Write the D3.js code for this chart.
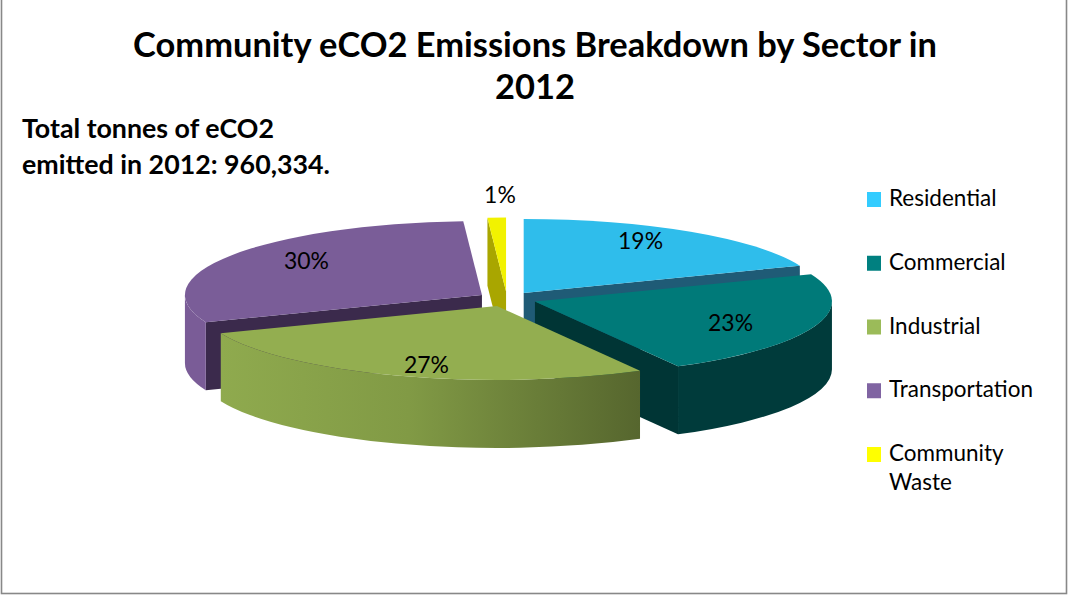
<!DOCTYPE html>
<html>
<head>
<meta charset="utf-8">
<script src="https://cdn.jsdelivr.net/npm/d3@7/dist/d3.min.js"></script>
<style>
  html, body { margin: 0; padding: 0; background: #fff; }
  svg { display: block; }
  text { font-family: Lato, "Open Sans", "DejaVu Sans", sans-serif; fill: #000; }
</style>
</head>
<body>
<svg id="chart" width="1068" height="596"></svg>
<script>
// ---- data ----
const categories = ["Residential", "Commercial", "Industrial", "Transportation", "Community Waste"];
const values = [19, 23, 27, 30, 1];
const percentLabels = ["19%", "23%", "27%", "30%", "1%"];
const titleLines = ["Community eCO2 Emissions Breakdown by Sector in", "2012"];
const noteLines = ["Total tonnes of eCO2", "emitted in 2012: 960,334."];
const legendLines = [["Residential"], ["Commercial"], ["Industrial"], ["Transportation"], ["Community", "Waste"]];

// ---- styles ----
const legendColors = ["#33CCFF", "#008080", "#9BBB59", "#8064A2", "#FFFF00"];
const topColors = ["#2FBDEB", "#007A79", "#93AE50", "#7A5D98", "#F2F200"];
const wallColors = ["#1E6E8C", "#003B3B", "url(#gGreen)", "#7A5C97", "#B8B800"];
const faceColors = ["#1F5B76", "#003535", "#5E7030", "#3B2A4C", "#A9A600"];

const svg = d3.select("#chart");
const W = 1068, H = 596;

// gradient for industrial wall
const defs = svg.append("defs");
const gg = defs.append("linearGradient").attr("id", "gGreen")
  .attr("x1", "0").attr("x2", "1").attr("y1", "0").attr("y2", "0");
gg.append("stop").attr("offset", "0").attr("stop-color", "#8FAA4E");
gg.append("stop").attr("offset", "0.45").attr("stop-color", "#819A45");
gg.append("stop").attr("offset", "1").attr("stop-color", "#56662E");

svg.append("rect").attr("x", 0).attr("y", 0).attr("width", W).attr("height", H).attr("fill", "#fff");
svg.append("rect").attr("x", 1.5).attr("y", -2).attr("width", W - 3).attr("height", H - 0.5)
  .attr("fill", "none").attr("stroke", "#888").attr("stroke-width", 1.6);

// fit a text element's width to a target by adjusting font size
function fit(sel, target) {
  const fs = parseFloat(sel.attr("font-size"));
  const w = sel.node().getComputedTextLength();
  const nfs = fs * target / w;
  sel.attr("font-size", nfs);
  return nfs;
}

// ---- title ----
const t1 = svg.append("text").attr("x", 535).attr("y", 57).attr("text-anchor", "middle")
  .attr("font-weight", "bold").attr("font-size", 30).text(titleLines[0]);
const tfs = fit(t1, 804);
svg.append("text").attr("x", 535).attr("y", 99).attr("text-anchor", "middle")
  .attr("font-weight", "bold").attr("font-size", tfs).text(titleLines[1]);

// ---- note ----
const n1 = svg.append("text").attr("x", 22).attr("y", 138)
  .attr("font-weight", "bold").attr("font-size", 22).text(noteLines[0]);
const nfs = fit(n1, 252);
svg.append("text").attr("x", 22).attr("y", 174)
  .attr("font-weight", "bold").attr("font-size", nfs).text(noteLines[1]);

// ---- 3D pie ----
const cx = 507, cy = 299, rx = 297, ry = 74, depth = 68, explode = 0.1;
const pie = d3.pie().sort(null).value(d => d);
const arcs = pie(values).map((a, i) => {
  const mid = (a.startAngle + a.endAngle) / 2;
  const ax = cx + explode * rx * Math.sin(mid);
  const ay = cy - explode * ry * Math.cos(mid);
  return { i, a0: a.startAngle, a1: a.endAngle, mid, ax, ay };
});

function pt(s, t, dz) {
  return [s.ax + rx * Math.sin(t), s.ay - ry * Math.cos(t) + (dz || 0)];
}

const pieG = svg.append("g");
const order = arcs.slice().sort((p, q) => (-Math.cos(p.mid)) - (-Math.cos(q.mid)));

order.forEach(s => {
  const g = pieG.append("g");
  // radial cut faces
  const faces = [];
  // start edge: outward normal at a0 - 90deg
  if (Math.cos(s.a0 - Math.PI / 2) < 0.001) faces.push(s.a0);
  if (Math.cos(s.a1 + Math.PI / 2) < 0.001) faces.push(s.a1);
  faces.forEach(t => {
    const p = pt(s, t, 0), pb = pt(s, t, depth);
    g.append("path")
      .attr("d", `M${s.ax},${s.ay}L${p[0]},${p[1]}L${pb[0]},${pb[1]}L${s.ax},${s.ay + depth}Z`)
      .attr("fill", faceColors[s.i]);
  });
  // outer wall (front half: angles between PI/2 and 3PI/2)
  const w0 = Math.max(s.a0, Math.PI / 2), w1 = Math.min(s.a1, 3 * Math.PI / 2);
  if (w1 > w0) {
    const p0 = pt(s, w0, 0), p1 = pt(s, w1, 0), q1 = pt(s, w1, depth), q0 = pt(s, w0, depth);
    const large = (w1 - w0) > Math.PI ? 1 : 0;
    g.append("path")
      .attr("d", `M${p0[0]},${p0[1]}A${rx},${ry} 0 ${large} 1 ${p1[0]},${p1[1]}L${q1[0]},${q1[1]}A${rx},${ry} 0 ${large} 0 ${q0[0]},${q0[1]}Z`)
      .attr("fill", wallColors[s.i]);
  }
  // top
  const p0 = pt(s, s.a0, 0), p1 = pt(s, s.a1, 0);
  const large = (s.a1 - s.a0) > Math.PI ? 1 : 0;
  g.append("path")
    .attr("d", `M${s.ax},${s.ay}L${p0[0]},${p0[1]}A${rx},${ry} 0 ${large} 1 ${p1[0]},${p1[1]}Z`)
    .attr("fill", topColors[s.i]);
});

// percentage labels
arcs.forEach(s => {
  let x, y;
  if (values[s.i] < 5) {
    x = s.ax + 1.3 * rx * Math.sin(s.mid) + 6;
    y = s.ay - 1.3 * ry * Math.cos(s.mid);
  } else {
    x = s.ax + 0.7 * rx * Math.sin(s.mid);
    y = s.ay - 0.85 * ry * Math.cos(s.mid);
  }
  const lt = svg.append("text").attr("x", x).attr("y", y).attr("dy", "0.35em")
    .attr("text-anchor", "middle").attr("font-size", 20).text(percentLabels[s.i]);
  if (s.i === 3) fit(lt, 45);
});
// harmonize label size
const lblSize = svg.selectAll("text").filter(function () { return d3.select(this).text() === "30%"; }).attr("font-size");
svg.selectAll("text").filter(function () { return percentLabels.includes(d3.select(this).text()); }).attr("font-size", lblSize);

// ---- legend ----
const legY = d3.scalePoint().domain(categories).range([192, 447]);
const lg = svg.append("g");
let legSize = 20;
categories.forEach((c, i) => {
  const y = legY(c);
  lg.append("rect").attr("x", 867).attr("y", y).attr("width", 14).attr("height", 15).attr("fill", legendColors[i]);
  legendLines[i].forEach((line, j) => {
    const t = lg.append("text").attr("class", "leg").attr("x", 889).attr("y", y + 14 + j * 29)
      .attr("font-size", legSize).text(line);
    if (line === "Transportation") legSize = fit(t, 144);
  });
});
lg.selectAll("text.leg").attr("font-size", legSize);
</script>
</body>
</html>
